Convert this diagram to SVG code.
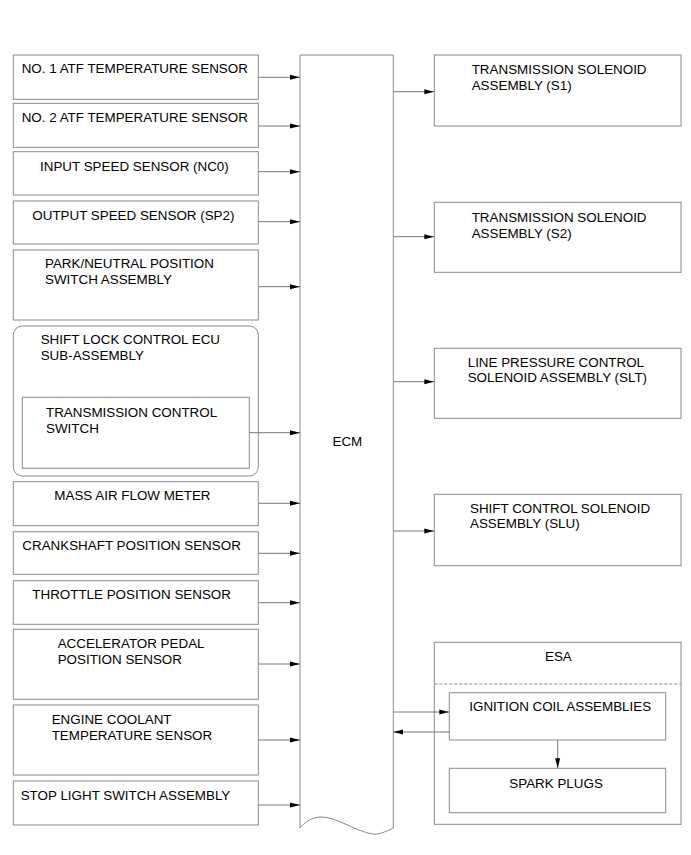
<svg xmlns="http://www.w3.org/2000/svg" width="691" height="855" viewBox="0 0 691 855">
<defs>
<marker id="ah" markerWidth="10" markerHeight="6" refX="10" refY="3" orient="auto" markerUnits="userSpaceOnUse">
<path d="M0,0.5 L10,3 L0,5.5 Z" fill="#000"/>
</marker>
</defs>
<style>
.box{fill:#fff;stroke:#8a8a8a;stroke-width:1}
.t{font-family:"Liberation Sans",Arial,sans-serif;font-size:13.4px;fill:#000}
.c{fill:none;stroke:#777;stroke-width:1;marker-end:url(#ah)}
</style>
<rect width="691" height="855" fill="#fff"/>

<g id="ecm">
<path class="box" d="M300,55 H393.3 V828 C385,832 378,835 372,834 C355,831 335,816 320,817 C310,818 304,823 300,828 Z"/>
<text class="t" x="332.5" y="446">ECM</text>
</g>

<g id="n1"><rect class="box" x="13.3" y="55" width="245" height="44.3"/><text class="t" x="21.7" y="73.3">NO. 1 ATF TEMPERATURE SENSOR</text></g>
<g id="n2"><rect class="box" x="13.3" y="103.3" width="245" height="44"/><text class="t" x="21.7" y="121.7">NO. 2 ATF TEMPERATURE SENSOR</text></g>
<g id="n3"><rect class="box" x="13.3" y="151.7" width="245" height="43.3"/><text class="t" x="40" y="171">INPUT SPEED SENSOR (NC0)</text></g>
<g id="n4"><rect class="box" x="13.3" y="201" width="245" height="43"/><text class="t" x="32.3" y="220">OUTPUT SPEED SENSOR (SP2)</text></g>
<g id="n5"><rect class="box" x="13.3" y="250" width="245" height="70"/><text class="t" x="45" y="268.3">PARK/NEUTRAL POSITION</text><text class="t" x="45" y="284.3">SWITCH ASSEMBLY</text></g>
<g id="n6"><rect class="box" x="13.3" y="326" width="245" height="150" rx="9" ry="9"/><text class="t" x="40.7" y="344.3">SHIFT LOCK CONTROL ECU</text><text class="t" x="40.7" y="360.3">SUB-ASSEMBLY</text></g>
<g id="n7"><rect class="box" x="22.3" y="397.3" width="227" height="71"/><text class="t" x="46" y="416.7">TRANSMISSION CONTROL</text><text class="t" x="46" y="432.7">SWITCH</text></g>
<g id="n8"><rect class="box" x="13.3" y="481.7" width="245" height="44"/><text class="t" x="54.3" y="500">MASS AIR FLOW METER</text></g>
<g id="n9"><rect class="box" x="13.3" y="531.7" width="245" height="42.6"/><text class="t" x="22.3" y="550">CRANKSHAFT POSITION SENSOR</text></g>
<g id="n10"><rect class="box" x="13.3" y="580.7" width="245" height="43.6"/><text class="t" x="32.3" y="599">THROTTLE POSITION SENSOR</text></g>
<g id="n11"><rect class="box" x="13.3" y="629.3" width="245" height="70"/><text class="t" x="57.7" y="648.3">ACCELERATOR PEDAL</text><text class="t" x="57.7" y="664">POSITION SENSOR</text></g>
<g id="n12"><rect class="box" x="13.3" y="705" width="245" height="70"/><text class="t" x="51.7" y="724">ENGINE COOLANT</text><text class="t" x="51.7" y="740">TEMPERATURE SENSOR</text></g>
<g id="n13"><rect class="box" x="13.3" y="781" width="245" height="44"/><text class="t" x="20.7" y="800">STOP LIGHT SWITCH ASSEMBLY</text></g>

<g id="s1"><rect class="box" x="434.3" y="55" width="246.7" height="71"/><text class="t" x="471.7" y="74.3">TRANSMISSION SOLENOID</text><text class="t" x="471.7" y="90">ASSEMBLY (S1)</text></g>
<g id="s2"><rect class="box" x="434.3" y="202.3" width="246.7" height="70"/><text class="t" x="471.7" y="221.7">TRANSMISSION SOLENOID</text><text class="t" x="471.7" y="237.7">ASSEMBLY (S2)</text></g>
<g id="slt"><rect class="box" x="434.3" y="348.3" width="246.7" height="70"/><text class="t" x="467.7" y="366.7">LINE PRESSURE CONTROL</text><text class="t" x="467.7" y="382.3">SOLENOID ASSEMBLY (SLT)</text></g>
<g id="slu"><rect class="box" x="434.3" y="494.3" width="246.7" height="71.4"/><text class="t" x="470" y="512.7">SHIFT CONTROL SOLENOID</text><text class="t" x="470" y="528.3">ASSEMBLY (SLU)</text></g>

<g id="esa">
<rect class="box" x="434.3" y="642.3" width="246.7" height="182"/>
<line x1="434.3" y1="684" x2="681" y2="684" stroke="#a08080" stroke-width="1" stroke-dasharray="3,2"/>
<text class="t" x="545" y="660.7">ESA</text>
</g>
<g id="ign"><rect class="box" x="449.3" y="692.7" width="216.4" height="47.3"/><text class="t" x="469.3" y="711">IGNITION COIL ASSEMBLIES</text></g>
<g id="spark"><rect class="box" x="449.3" y="768.3" width="216.4" height="44.4"/><text class="t" x="509.3" y="788.3">SPARK PLUGS</text></g>

<g id="connectors">
<line class="c" x1="258.3" y1="77.3" x2="300" y2="77.3"/>
<line class="c" x1="258.3" y1="126" x2="300" y2="126"/>
<line class="c" x1="258.3" y1="171.7" x2="300" y2="171.7"/>
<line class="c" x1="258.3" y1="221.7" x2="300" y2="221.7"/>
<line class="c" x1="258.3" y1="286.7" x2="300" y2="286.7"/>
<line class="c" x1="249.3" y1="432.7" x2="300" y2="432.7"/>
<line class="c" x1="258.3" y1="503.3" x2="300" y2="503.3"/>
<line class="c" x1="258.3" y1="553.3" x2="300" y2="553.3"/>
<line class="c" x1="258.3" y1="602.7" x2="300" y2="602.7"/>
<line class="c" x1="258.3" y1="664" x2="300" y2="664"/>
<line class="c" x1="258.3" y1="740" x2="300" y2="740"/>
<line class="c" x1="258.3" y1="805" x2="300" y2="805"/>
<line class="c" x1="393.3" y1="91.7" x2="434.3" y2="91.7"/>
<line class="c" x1="393.3" y1="236.7" x2="434.3" y2="236.7"/>
<line class="c" x1="393.3" y1="381.7" x2="434.3" y2="381.7"/>
<line class="c" x1="393.3" y1="531" x2="434.3" y2="531"/>
<line class="c" x1="393.3" y1="712" x2="449.3" y2="712"/>
<line class="c" x1="449.3" y1="732" x2="393.3" y2="732"/>
<line class="c" x1="557.7" y1="740" x2="557.7" y2="768.3"/>
</g>
</svg>
